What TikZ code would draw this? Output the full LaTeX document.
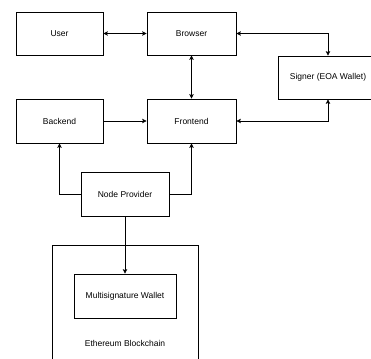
\documentclass[tikz,border=0pt]{standalone}
\usepackage{fontspec}
\setmainfont{Liberation Sans}
\usetikzlibrary{arrows.meta}

\begin{document}
\begin{tikzpicture}[x=1pt, y=-1pt, line width=0.7pt, >={Stealth[length=4.5pt,width=4.5pt,inset=1pt]},
	box/.style={draw, rectangle, line width=0.8pt, minimum width=88pt, minimum height=43pt, inner sep=0pt, font=\fontsize{8.5}{10}\selectfont},
	label/.style={font=\fontsize{8.5}{10}\selectfont}]
		\useasboundingbox (0,0) rectangle (371,358);
		
		% Top row
		\node (user) at (59.5,33.5) [box, minimum width=87pt] {User};
		\node (browser) at (191.5,33.5) [box, minimum width=89pt] {Browser};
		\node (signer) at (328,77.5) [box, minimum width=100pt] {Signer (EOA Wallet)};
		
		% Middle row
		\node (backend) at (59.5,121) [box, minimum width=87pt, minimum height=44pt] {Backend};
		\node (frontend) at (191.5,121) [box, minimum width=89pt, minimum height=44pt] {Frontend};
		\node (provider) at (125,194) [box, minimum height=44pt] {Node Provider};
		
		% Blockchain
		\node (chain) at (125,310) [box, minimum width=146pt, minimum height=130pt] {};
		\node (multisig) at (125,296) [box, minimum width=102pt, minimum height=44pt] {Multisignature Wallet};
		\node (chainname) at (125,343) [label] {Ethereum Blockchain};
		
		% Arrows
		\path [<->] (user) edge (browser);
		\path [<->] (browser) edge (frontend);
		\draw [<->] (browser.east) -| (signer.north);
		\draw [<->] (frontend.east) -| (signer.south);
		\path [->] (backend) edge (frontend);
		\draw [->] (provider.west) -| (backend.south);
		\draw [->] (provider.east) -| (frontend.south);
		\path [->] (provider) edge (multisig);
	\end{tikzpicture}
\end{document}
